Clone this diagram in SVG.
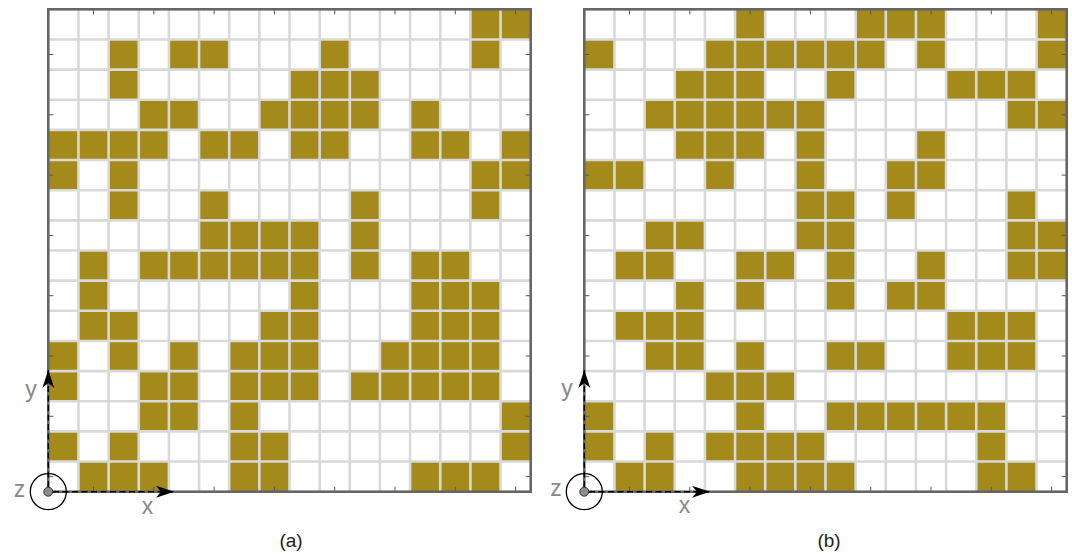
<svg xmlns="http://www.w3.org/2000/svg" width="1072" height="554" viewBox="0 0 1072 554">
<style>
.fill{fill:#a38a1b}
.grid{fill:none;stroke:#d9d9d9;stroke-width:2.6}
.tick{fill:none;stroke:#555;stroke-width:1}
.border{fill:none;stroke:#666;stroke-width:2.6}
.axis{fill:none;stroke:#000;stroke-width:1.4;stroke-dasharray:6 3.5}
.lbl{font-family:"Liberation Sans",Arial,sans-serif;font-size:23px;fill:#888;text-anchor:middle}
.cap{font-family:"Liberation Sans",Arial,sans-serif;font-size:19px;fill:#222;text-anchor:middle}
</style>
<defs>
<marker id="arr" viewBox="-20 -7 21 14" refX="0" refY="0" markerWidth="21" markerHeight="14" markerUnits="userSpaceOnUse" orient="auto">
<path d="M0 0L-18 -6L-13 0L-18 6Z" fill="#000"/>
</marker>
<g id="frame">
<path class="grid" d="M30.15 0V482.4M60.3 0V482.4M90.45 0V482.4M120.6 0V482.4M150.75 0V482.4M180.9 0V482.4M211.05 0V482.4M241.2 0V482.4M271.35 0V482.4M301.5 0V482.4M331.65 0V482.4M361.8 0V482.4M391.95 0V482.4M422.1 0V482.4M452.25 0V482.4M0 30.15H482.4M0 60.3H482.4M0 90.45H482.4M0 120.6H482.4M0 150.75H482.4M0 180.9H482.4M0 211.05H482.4M0 241.2H482.4M0 271.35H482.4M0 301.5H482.4M0 331.65H482.4M0 361.8H482.4M0 391.95H482.4M0 422.1H482.4M0 452.25H482.4"/>
<path class="tick" d="M45.2 0v5M105.5 0v5M165.8 0v5M226.1 0v5M286.4 0v5M346.7 0v5M407 0v5M467.3 0v5M45.2 482.4v-5M105.5 482.4v-5M165.8 482.4v-5M226.1 482.4v-5M286.4 482.4v-5M346.7 482.4v-5M407 482.4v-5M467.3 482.4v-5M0 45.2h5M0 105.5h5M0 165.8h5M0 226.1h5M0 286.4h5M0 346.7h5M0 407h5M0 467.3h5M482.4 45.2h-5M482.4 105.5h-5M482.4 165.8h-5M482.4 226.1h-5M482.4 286.4h-5M482.4 346.7h-5M482.4 407h-5M482.4 467.3h-5"/>
<rect class="border" x="0" y="0" width="482.4" height="482.4"/>
</g>
</defs>
<rect width="1072" height="554" fill="#fff"/>

<g id="panel-a">
<path class="fill" transform="translate(48.3 9.3) scale(30.15)" d="M14 0h2v1h-2z M2 1h1v1h-1z M4 1h2v1h-2z M9 1h1v1h-1z M14 1h1v1h-1z M2 2h1v1h-1z M8 2h3v1h-3z M3 3h2v1h-2z M7 3h4v1h-4z M12 3h1v1h-1z M0 4h4v1h-4z M5 4h2v1h-2z M8 4h2v1h-2z M12 4h2v1h-2z M15 4h1v1h-1z M0 5h1v1h-1z M2 5h1v1h-1z M14 5h2v1h-2z M2 6h1v1h-1z M5 6h1v1h-1z M10 6h1v1h-1z M14 6h1v1h-1z M5 7h4v1h-4z M10 7h1v1h-1z M1 8h1v1h-1z M3 8h6v1h-6z M10 8h1v1h-1z M12 8h2v1h-2z M1 9h1v1h-1z M8 9h1v1h-1z M12 9h3v1h-3z M1 10h2v1h-2z M7 10h2v1h-2z M12 10h3v1h-3z M0 11h1v1h-1z M2 11h1v1h-1z M4 11h1v1h-1z M6 11h3v1h-3z M11 11h4v1h-4z M0 12h1v1h-1z M3 12h2v1h-2z M6 12h3v1h-3z M10 12h5v1h-5z M3 13h2v1h-2z M6 13h1v1h-1z M15 13h1v1h-1z M0 14h1v1h-1z M2 14h1v1h-1z M6 14h2v1h-2z M15 14h1v1h-1z M1 15h3v1h-3z M6 15h2v1h-2z M12 15h3v1h-3z"/>
<use href="#frame" transform="translate(48.3 9.3)"/>
<text class="lbl" x="31" y="397">y</text>
<text class="lbl" x="19.5" y="497">z</text>
<text class="lbl" x="147.5" y="514">x</text>
<text class="cap" x="291" y="547">(a)</text>
</g>

<g id="panel-b">
<path class="fill" transform="translate(584.3 9.3) scale(30.15)" d="M5 0h1v1h-1z M9 0h3v1h-3z M15 0h1v1h-1z M0 1h1v1h-1z M4 1h6v1h-6z M11 1h1v1h-1z M15 1h1v1h-1z M3 2h3v1h-3z M8 2h1v1h-1z M12 2h3v1h-3z M2 3h6v1h-6z M14 3h2v1h-2z M3 4h3v1h-3z M7 4h1v1h-1z M11 4h1v1h-1z M0 5h2v1h-2z M4 5h1v1h-1z M7 5h1v1h-1z M10 5h2v1h-2z M7 6h2v1h-2z M10 6h1v1h-1z M14 6h1v1h-1z M2 7h2v1h-2z M7 7h2v1h-2z M14 7h2v1h-2z M1 8h2v1h-2z M5 8h2v1h-2z M8 8h1v1h-1z M11 8h1v1h-1z M14 8h2v1h-2z M3 9h1v1h-1z M5 9h1v1h-1z M8 9h1v1h-1z M10 9h2v1h-2z M1 10h3v1h-3z M12 10h3v1h-3z M2 11h2v1h-2z M5 11h1v1h-1z M8 11h2v1h-2z M12 11h3v1h-3z M4 12h3v1h-3z M0 13h1v1h-1z M5 13h1v1h-1z M8 13h6v1h-6z M0 14h1v1h-1z M2 14h1v1h-1z M4 14h4v1h-4z M13 14h1v1h-1z M1 15h2v1h-2z M5 15h4v1h-4z M13 15h2v1h-2z"/>
<use href="#frame" transform="translate(584.3 9.3)"/>
<text class="lbl" x="567" y="396">y</text>
<text class="lbl" x="556" y="496">z</text>
<text class="lbl" x="684.5" y="513">x</text>
<text class="cap" x="829" y="547">(b)</text>
</g>

<g id="connectors">
<line class="axis" x1="53" y1="491.7" x2="174" y2="491.7" marker-end="url(#arr)"/>
<line class="axis" x1="48.3" y1="487" x2="48.3" y2="370" marker-end="url(#arr)"/>
<circle cx="48.3" cy="491.7" r="18" fill="none" stroke="#000" stroke-width="1.3"/>
<circle cx="48.3" cy="491.7" r="4.5" fill="#8c8c8c" stroke="#333" stroke-width="1"/>
<line class="axis" x1="589" y1="491.7" x2="710" y2="491.7" marker-end="url(#arr)"/>
<line class="axis" x1="584.3" y1="487" x2="584.3" y2="370" marker-end="url(#arr)"/>
<circle cx="584.3" cy="491.7" r="18" fill="none" stroke="#000" stroke-width="1.3"/>
<circle cx="584.3" cy="491.7" r="4.5" fill="#8c8c8c" stroke="#333" stroke-width="1"/>
</g>
</svg>
